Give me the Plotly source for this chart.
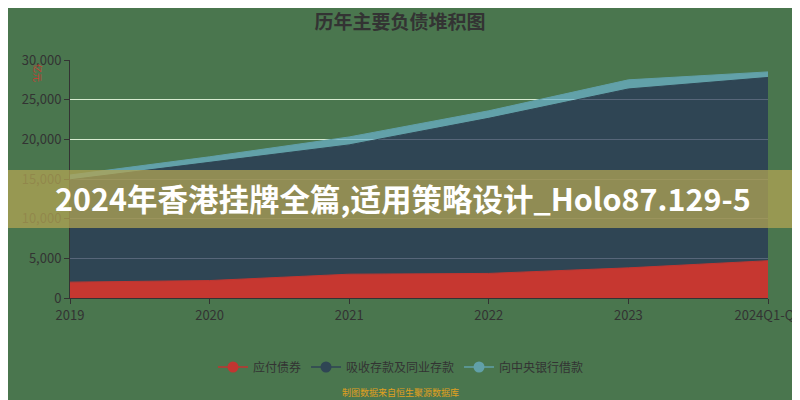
import plotly.graph_objects as go

categories = ["2019", "2020", "2021", "2022", "2023", "2024Q1-Q3"]
bonds_payable = [2000, 2200, 3000, 3100, 3800, 4700]
deposits = [12900, 14900, 16300, 19550, 22550, 23100]
central_bank = [600, 700, 1000, 950, 1150, 700]

series = [
    ("应付债券", bonds_payable, "rgba(247,30,37,0.72)", "#c23531"),
    ("吸收存款及同业存款", deposits, "rgba(37,50,88,0.72)", "#2f4554"),
    ("向中央银行借款", central_bank, "rgba(108,178,205,0.72)", "#61a0a8"),
]

fig = go.Figure()
for name, vals, fill, col in series:
    fig.add_trace(go.Scatter(
        x=categories, y=vals, name=name, stackgroup="one", mode="lines",
        line=dict(width=1, color=col), fillcolor=fill, showlegend=False,
        hoverinfo="x+y+name"))
for name, vals, fill, col in series:
    fig.add_trace(go.Scatter(
        x=[None], y=[None], name=name, mode="lines+markers",
        line=dict(width=1.5, color=col), marker=dict(size=11, color=col)))

bg = "rgb(74,118,78)"
L, R, T, B = 62, 40, 52, 110
PW = 800 - L - R
PH = 400 - T - B
BOT = 400 - B


def px_x(fx):
    return (fx - L) / PW


def px_y(fy):
    return (BOT - fy) / PH


fig.update_layout(
    width=800, height=400,
    margin=dict(l=L, r=R, t=T, b=B, autoexpand=False),
    paper_bgcolor=bg, plot_bgcolor=bg,
    font=dict(family="Noto Sans CJK SC, sans-serif", color="#333333", size=12),
    title=dict(text="<b>历年主要负债堆积图</b>", x=0.49, xanchor="center",
               y=0.965, yanchor="middle",
               font=dict(size=19, color="#333333", family="Noto Sans CJK SC")),
    showlegend=True,
    legend=dict(orientation="h", x=px_x(393), xanchor="center",
                y=px_y(359), yanchor="middle", itemwidth=30,
                traceorder="normal",
                font=dict(size=12, color="#333333"), bgcolor="rgba(0,0,0,0)"),
    xaxis=dict(type="category", range=[0, 5], showgrid=False, automargin=False,
               showline=True, linecolor="#333333", linewidth=1,
               ticks="outside", ticklen=5, tickcolor="#333333",
               tickfont=dict(size=13, color="#333333"), zeroline=False),
    yaxis=dict(range=[0, 30000], dtick=5000, tickformat=",", automargin=False,
               showgrid=True, gridcolor="rgb(215,235,208)", gridwidth=1,
               showline=True, linecolor="#333333", linewidth=1,
               ticks="outside", ticklen=5, tickcolor="#333333",
               tickfont=dict(size=13, color="#333333"), zeroline=False),
)

fig.add_annotation(text="亿元", xref="paper", yref="paper",
                   x=px_x(30), y=px_y(65), xanchor="center", yanchor="middle",
                   showarrow=False, textangle=90,
                   font=dict(size=9, color="#d03a30"))
fig.add_annotation(text="制图数据来自恒生聚源数据库", xref="paper", yref="paper",
                   x=px_x(392), y=px_y(384), xanchor="center", yanchor="middle",
                   showarrow=False, font=dict(size=9, color="#e0a020"))

# overlay banner
fig.add_shape(type="rect", xref="paper", yref="paper",
              x0=px_x(-20), x1=px_x(820), y0=px_y(220), y1=px_y(162),
              fillcolor="rgba(178,164,84,0.75)", line=dict(width=0), layer="above")
fig.add_annotation(text="<b>2024年香港挂牌全篇,适用策略设计_Holo87.129-5</b>",
                   xref="paper", yref="paper", x=px_x(395), y=px_y(190),
                   xanchor="center", yanchor="middle",
                   showarrow=False, font=dict(size=30.5, color="white",
                                              family="Noto Sans CJK SC"))

fig.write_html("out.html")
